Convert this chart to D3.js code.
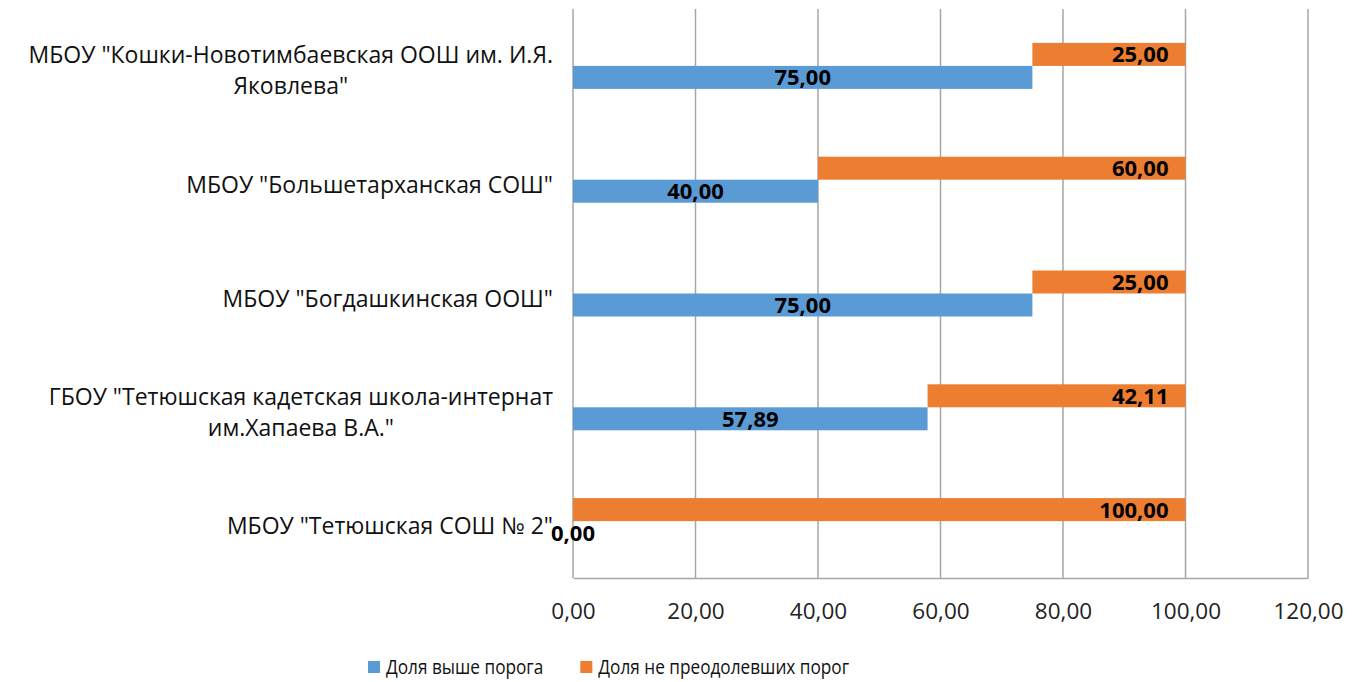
<!DOCTYPE html>
<html>
<head>
<meta charset="utf-8">
<script src="https://cdn.jsdelivr.net/npm/d3@7"></script>
<style>
  body { margin: 0; background: #fff; }
  svg { display: block; }
</style>
</head>
<body>
<svg id="chart" width="1353" height="682"></svg>
<script>
// categories, top to bottom (each entry = lines of the label)
const schools = [
    ['МБОУ "Кошки-Новотимбаевская ООШ им. И.Я.', 'Яковлева"'],
    ['МБОУ "Большетарханская СОШ"'],
    ['МБОУ "Богдашкинская ООШ"'],
    ['ГБОУ "Тетюшская кадетская школа-интернат', 'им.Хапаева В.А."'],
    ['МБОУ "Тетюшская СОШ № 2"']
];
const aboveShare = [75.00, 40.00, 75.00, 57.89, 0.00];
const failShare = [25.00, 60.00, 25.00, 42.11, 100.00];
const xTicks = [0, 20, 40, 60, 80, 100, 120];
const seriesNames = ['Доля выше порога', 'Доля не преодолевших порог'];

const blue = '#5B9BD5';
const orange = '#ED7D31';
const gridCol = '#A6A6A6';
const font = '"Open Sans", "Noto Sans", sans-serif';

// comma as decimal separator
const ru = d3.formatLocale({ decimal: ',', thousands: ' ', grouping: [3], currency: ['', ''] });
const fmt = ru.format('.2f');

const svg = d3.select('#chart');
const m = { left: 573, right: 45, top: 9, bottom: 104 };
const W = 1353, H = 682;

let x = d3.scaleLinear()
    .domain([0, 120])
    .range([m.left, W - m.right]);

let y = d3.scaleBand()
    .domain(d3.range(schools.length))
    .range([m.top, H - m.bottom]);

const barH = 23;

//vertical gridlines
svg.append('g')
    .selectAll('line')
    .data(xTicks)
    .enter()
    .append('line')
    .attr('x1', d => x(d)).attr('x2', d => x(d))
    .attr('y1', m.top).attr('y2', H - m.bottom)
    .attr('stroke', gridCol)
    .attr('stroke-width', 1.5);

//bottom axis
let xAxis = d3.axisBottom(x)
    .tickValues(xTicks)
    .tickFormat(fmt)
    .tickSize(0)
    .tickPadding(25);

let gx = svg.append('g')
    .attr('transform', `translate(0, ${H - m.bottom})`)
    .call(xAxis);
gx.select('.domain').attr('stroke', gridCol).attr('stroke-width', 1.5);
gx.selectAll('text')
    .attr('font-family', font)
    .attr('font-size', '22.5px')
    .attr('fill', '#222');

// orange bars sit above the band centre, starting where the blue ends
svg.append('g')
    .selectAll('rect')
    .data(failShare)
    .enter()
    .append('rect')
    .attr('x', (d, i) => x(aboveShare[i]))
    .attr('y', (d, i) => y(i) + y.bandwidth() / 2 - barH)
    .attr('width', (d, i) => x(aboveShare[i] + d) - x(aboveShare[i]))
    .attr('height', barH)
    .attr('fill', orange);

svg.append('g')
    .selectAll('rect')
    .data(aboveShare)
    .enter()
    .append('rect')
    .attr('x', x(0))
    .attr('y', (d, i) => y(i) + y.bandwidth() / 2)
    .attr('width', d => x(d) - x(0))
    .attr('height', barH)
    .attr('fill', blue);

// value labels
svg.append('g')
    .selectAll('text')
    .data(aboveShare)
    .enter()
    .append('text')
    .attr('x', d => x(d / 2))
    .attr('y', (d, i) => y(i) + y.bandwidth() / 2 + barH / 2)
    .attr('dy', '0.36em')
    .attr('text-anchor', 'middle')
    .attr('font-family', font)
    .attr('font-size', '22px')
    .attr('font-weight', 'bold')
    .attr('fill', '#000')
    .text(d => fmt(d));

svg.append('g')
    .selectAll('text')
    .data(failShare)
    .enter()
    .append('text')
    .attr('x', (d, i) => x(aboveShare[i] + d) - 17)
    .attr('y', (d, i) => y(i) + y.bandwidth() / 2 - barH / 2)
    .attr('dy', '0.36em')
    .attr('text-anchor', 'end')
    .attr('font-family', font)
    .attr('font-size', '22px')
    .attr('font-weight', 'bold')
    .attr('fill', '#000')
    .text(d => fmt(d));

// category labels, centred lines with the block right-aligned to the axis
const lineH = 31;
let cats = svg.append('g');
schools.forEach((lines, i) => {
    let g = cats.append('g');
    let texts = g.selectAll('text')
        .data(lines)
        .enter()
        .append('text')
        .attr('font-family', font)
        .attr('font-size', '23px')
        .attr('fill', '#111')
        .attr('text-anchor', 'middle')
        .attr('dy', '0.35em')
        .attr('y', (d, k) => y(i) + y.bandwidth() / 2 + 5 + (k - (lines.length - 1) / 2) * lineH)
        .text(d => d);
    let maxW = d3.max(texts.nodes(), n => n.getComputedTextLength());
    texts.attr('x', m.left - 20 - maxW / 2);
});

// legend (text a bit condensed, like the original's Calibri)
let legend = svg.append('g').attr('transform', 'translate(368, 667)');
let lx = 0;
seriesNames.forEach((name, i) => {
    let item = legend.append('g').attr('transform', `translate(${lx}, 0)`);
    item.append('rect')
        .attr('x', 0).attr('y', -6)
        .attr('width', 12).attr('height', 12)
        .attr('fill', i === 0 ? blue : orange);
    let t = item.append('text')
        .attr('x', 18)
        .attr('dy', '0.35em')
        .attr('font-family', font)
        .attr('font-size', '20px')
        .attr('fill', '#111')
        .text(name);
    let w = t.node().getComputedTextLength() * 0.86;
    t.attr('textLength', w).attr('lengthAdjust', 'spacingAndGlyphs');
    lx += 18 + w + 37;
});
</script>
</body>
</html>
